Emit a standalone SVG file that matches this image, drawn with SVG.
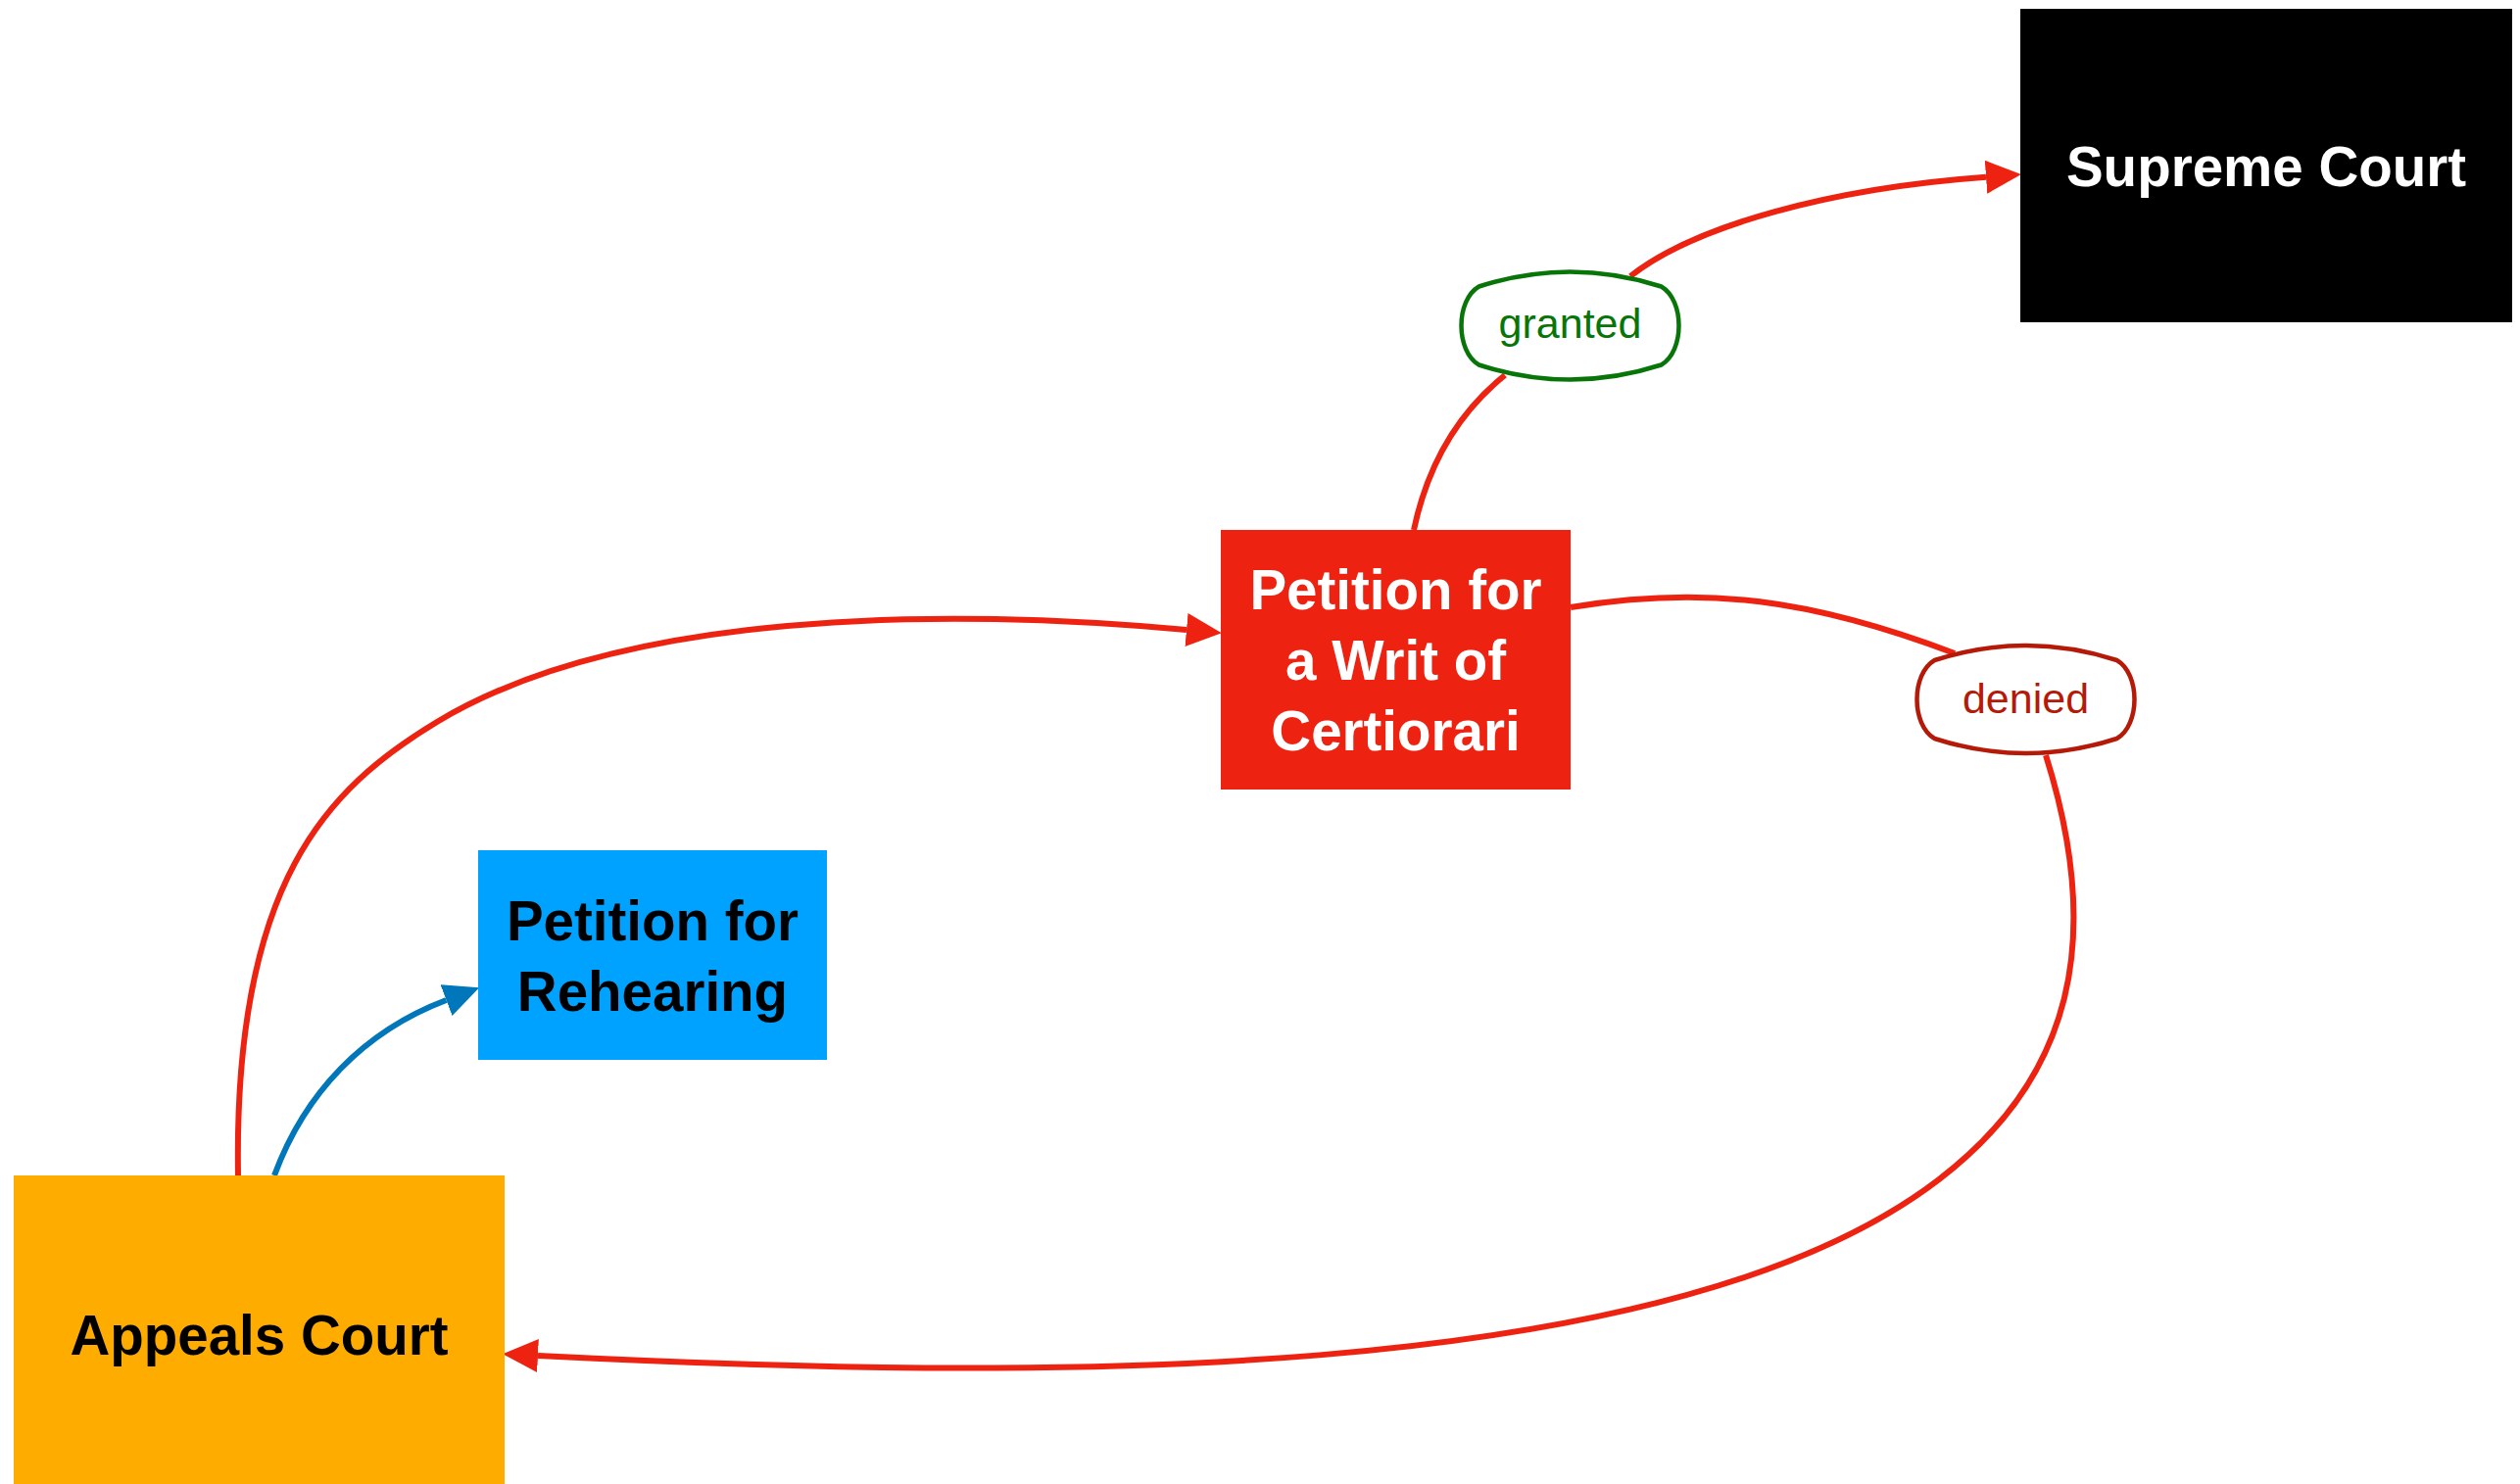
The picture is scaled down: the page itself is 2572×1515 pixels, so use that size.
<svg xmlns="http://www.w3.org/2000/svg" width="2572" height="1515" viewBox="0 0 2572 1515">
<defs>
<style>
.node text{font-family:"Liberation Sans",Arial,Helvetica,sans-serif;font-size:56.5px;font-weight:bold;text-anchor:middle}
.lbl text{font-family:"Liberation Sans",Arial,Helvetica,sans-serif;font-size:43px;text-anchor:middle}
.edge{fill:none;stroke-width:6}
.red{stroke:#ee2210}
.blue{stroke:#0077bb}
</style>
<marker id="arrRed" markerUnits="userSpaceOnUse" markerWidth="36" markerHeight="34" viewBox="0 0 36 34" refX="0" refY="17" orient="auto">
<path d="M0,0 L36,17 L0,34 Z" fill="#ee2210"/>
</marker>
<marker id="arrBlue" markerUnits="userSpaceOnUse" markerWidth="36" markerHeight="34" viewBox="0 0 36 34" refX="0" refY="17" orient="auto">
<path d="M0,0 L36,17 L0,34 Z" fill="#0077bb"/>
</marker>
<path id="lblShape" d="M -93 -40 Q 0 -70 93 -40 C 117 -26 117 26 93 40 Q 0 70 -93 40 C -117 26 -117 -26 -93 -40 Z"/>
</defs>
<rect width="2572" height="1515" fill="#ffffff"/>

<g id="connectors">
<path class="edge red" d="M 243 1200 C 238 900 335 804 446 737 C 617 634 912 616 1211 643" marker-end="url(#arrRed)"/>
<path class="edge blue" d="M 280 1200 C 311 1116 371 1053 455.5 1021" marker-end="url(#arrBlue)"/>
<path class="edge red" d="M 1443 541 C 1458 470 1490 420 1536 383"/>
<path class="edge red" d="M 1664 282 C 1730 230 1870 192 2027 180.7" marker-end="url(#arrRed)"/>
<path class="edge red" d="M 1603 620 C 1741 597 1850 612 1995 667"/>
<path class="edge red" d="M 2088 771 C 2148 961 2114 1101 1978.6 1204.4 C 1700.7 1417.2 1048 1409 549 1384" marker-end="url(#arrRed)"/>
</g>

<g id="node-supreme" class="node">
<rect x="2062" y="9" width="502" height="320" fill="#000000"/>
<text x="2313" y="190" fill="#ffffff">Supreme Court</text>
</g>

<g id="node-certiorari" class="node">
<rect x="1246" y="541" width="357" height="265" fill="#ee2210"/>
<text x="1424.5" y="621.5" fill="#ffffff">Petition for</text>
<text x="1424.5" y="693.5" fill="#ffffff">a Writ of</text>
<text x="1424.5" y="765.5" fill="#ffffff">Certiorari</text>
</g>

<g id="node-rehearing" class="node">
<rect x="488" y="868" width="356" height="214" fill="#00a2ff"/>
<text x="666" y="960" fill="#000000">Petition for</text>
<text x="666" y="1032" fill="#000000">Rehearing</text>
</g>

<g id="node-appeals" class="node">
<rect x="14" y="1200" width="501" height="320" fill="#feac00"/>
<text x="264.5" y="1383" fill="#000000">Appeals Court</text>
</g>

<g id="label-granted" class="lbl" transform="translate(1602.5 332.5)">
<use href="#lblShape" stroke="#087508" fill="#ffffff" stroke-width="4.5"/>
<text x="0" y="12" fill="#087508">granted</text>
</g>

<g id="label-denied" class="lbl" transform="translate(2067.5 714)">
<use href="#lblShape" stroke="#b51a08" fill="#ffffff" stroke-width="4.5"/>
<text x="0" y="14" fill="#b51a08">denied</text>
</g>
</svg>
